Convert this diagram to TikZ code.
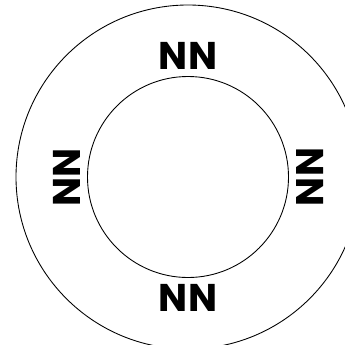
\documentclass[tikz,border=0pt]{standalone}
\usepackage{fontspec}
\setmainfont{Poppins}
\usetikzlibrary{positioning}

\begin{document}
\begin{tikzpicture}[x=0.02cm, y=-0.02cm,
    ring/.style={draw, line width=0.5pt},
    pole/.style={font=\fontsize{22}{22}\selectfont\bfseries, inner sep=0pt}]
    \useasboundingbox (0,0) rectangle (345,345);
    \coordinate (c) at (188,177);

    \draw[ring] (c) circle (172);
    \draw[ring] (c) circle (100.5);

    \node[pole] (top) at (188,56) {NN};
    \node[pole] (bottom) at (188,298) {NN};
    \node[pole, rotate=90] (left) at (67,177) {NN};
    \node[pole, rotate=-90] (right) at (310,177) {NN};
\end{tikzpicture}
\end{document}
